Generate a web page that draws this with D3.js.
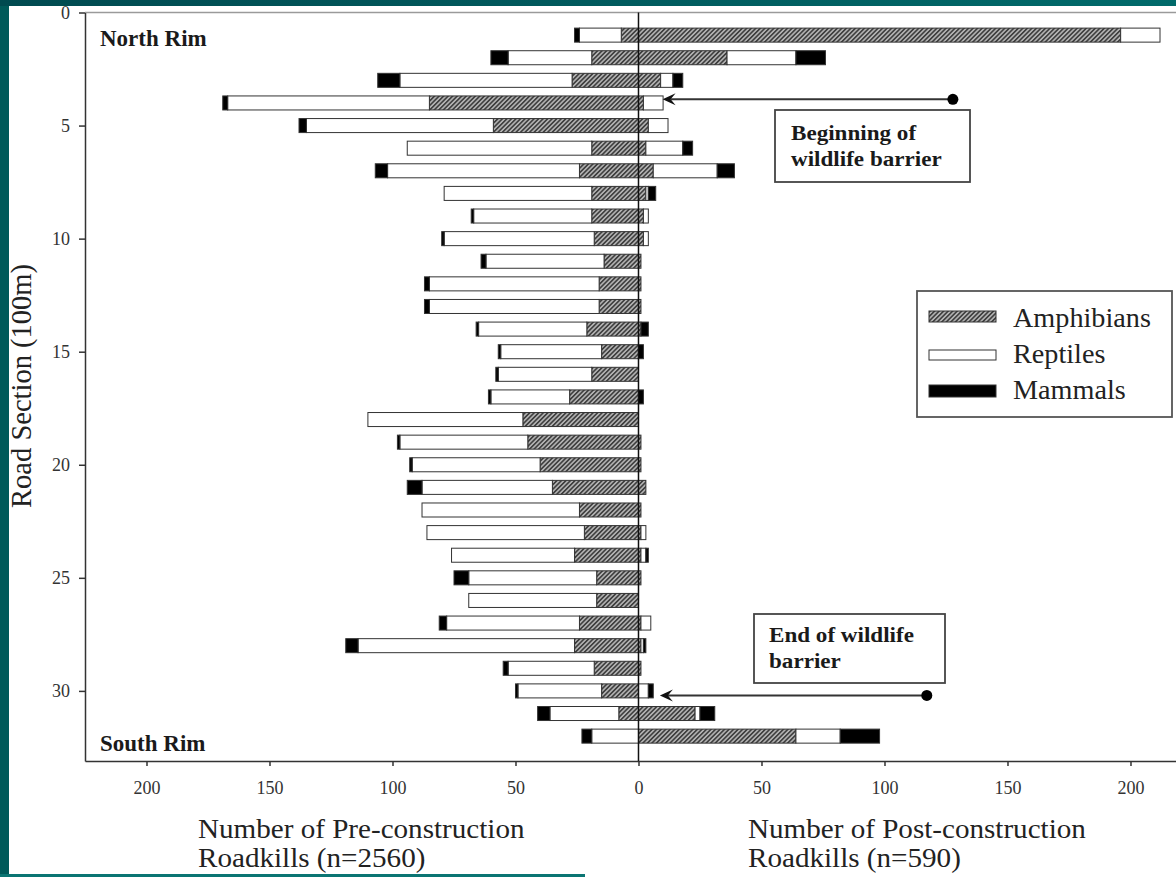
<!DOCTYPE html>
<html>
<head>
<meta charset="utf-8">
<script src="https://cdn.jsdelivr.net/npm/d3@7"></script>
<style>
  html, body { margin: 0; padding: 0; background: #00585a; }
  svg { display: block; }
  text { font-family: "Liberation Serif", "Times New Roman", serif; }
</style>
</head>
<body>
<div id="chart"></div>
<script>
// Road sections of 100 m, North Rim (1) down to South Rim (32)
const sections = [1, 2, 3, 4, 5, 6, 7, 8, 9, 10, 11, 12, 13, 14, 15, 16,
                  17, 18, 19, 20, 21, 22, 23, 24, 25, 26, 27, 28, 29, 30, 31, 32];

// Pre-construction roadkills (drawn to the left)
const preAmphibians = [7, 19, 27, 85, 59, 19, 24, 19, 19, 18, 14, 16, 16, 21, 15, 19,
                       28, 47, 45, 40, 35, 24, 22, 26, 17, 17, 24, 26, 18, 15, 8, 0];
const preReptiles   = [17, 34, 70, 82, 76, 75, 78, 60, 48, 61, 48, 69, 69, 44, 41, 38,
                       32, 63, 52, 52, 53, 64, 64, 50, 52, 52, 54, 88, 35, 34, 28, 19];
const preMammals    = [2, 7, 9, 2, 3, 0, 5, 0, 1, 1, 2, 2, 2, 1, 1, 1,
                       1, 0, 1, 1, 6, 0, 0, 0, 6, 0, 3, 5, 2, 1, 5, 4];

// Post-construction roadkills (drawn to the right)
const postAmphibians = [196, 36, 9, 2, 4, 3, 6, 3, 2, 2, 1, 1, 1, 1, 0, 0,
                        0, 0, 1, 1, 3, 1, 1, 1, 1, 0, 1, 1, 1, 0, 23, 64];
const postReptiles   = [16, 28, 5, 8, 8, 15, 26, 1, 2, 2, 0, 0, 0, 0, 0, 0,
                        0, 0, 0, 0, 0, 0, 2, 2, 0, 0, 4, 1, 0, 4, 2, 18];
const postMammals    = [0, 12, 4, 0, 0, 4, 7, 3, 0, 0, 0, 0, 0, 3, 2, 0,
                        2, 0, 0, 0, 0, 0, 0, 1, 0, 0, 0, 1, 0, 2, 6, 16];

const species = ["Amphibians", "Reptiles", "Mammals"];
const xTicks = [-200, -150, -100, -50, 0, 50, 100, 150, 200];
const yTicks = [0, 5, 10, 15, 20, 25, 30];

const width = 1176, height = 877;
const plotLeft = 85, plotRight = 1176, plotTop = 12.5, plotBottom = 761;

const svg = d3.select("#chart").append("svg")
    .attr("width", width)
    .attr("height", height);

const defs = svg.append("defs");

// diagonal hatching for amphibians
const hatch = defs.append("pattern")
    .attr("id", "hatch")
    .attr("patternUnits", "userSpaceOnUse")
    .attr("width", 3.2)
    .attr("height", 3.2)
    .attr("patternTransform", "rotate(45)");
hatch.append("rect").attr("width", 3.2).attr("height", 3.2).attr("fill", "#b4b4b4");
hatch.append("line")
    .attr("x1", 0.8).attr("y1", 0).attr("x2", 0.8).attr("y2", 3.2)
    .attr("stroke", "#404040").attr("stroke-width", 1.7);

const topGrad = defs.append("linearGradient").attr("id", "topband");
topGrad.append("stop").attr("offset", "0%").attr("stop-color", "#004a50");
topGrad.append("stop").attr("offset", "100%").attr("stop-color", "#006a6a");

// page frame: teal edges round a white panel
svg.append("rect").attr("width", width).attr("height", height).attr("fill", "#005a5a");
svg.append("rect").attr("x", 9).attr("y", 6).attr("width", width - 9).attr("height", height - 6).attr("fill", "#fff");
svg.append("rect").attr("width", width).attr("height", 6).attr("fill", "url(#topband)");
svg.append("rect").attr("x", 0).attr("y", 874).attr("width", 585).attr("height", 3).attr("fill", "#0b7573");

// text helper; the source figure is slightly stretched sideways
function label(px, py, str, size, opts = {}) {
    return svg.append("text")
        .attr("transform", `translate(${px},${py}) scale(${opts.sx || 1},1)`)
        .attr("font-size", size)
        .attr("font-weight", opts.bold ? "bold" : null)
        .attr("fill", opts.fill || "#222")
        .text(str);
}

const x = d3.scaleLinear()
    .domain([-225, 218.5])
    .range([plotLeft, plotRight]);

const y = d3.scaleLinear()
    .domain([0, 33.1])
    .range([plotTop, plotBottom]);

const fills = {Amphibians: "url(#hatch)", Reptiles: "#fff", Mammals: "#000"};
const barHalf = 0.31;

const preData = sections.map((s, i) => ({
    section: s, Amphibians: preAmphibians[i], Reptiles: preReptiles[i], Mammals: preMammals[i]
}));
const postData = sections.map((s, i) => ({
    section: s, Amphibians: postAmphibians[i], Reptiles: postReptiles[i], Mammals: postMammals[i]
}));

const stack = d3.stack().keys(species);

function drawSide(data, sign) {
    const layers = stack(data);
    const g = svg.append("g");
    layers.forEach(layer => {
        g.selectAll(null)
            .data(layer.filter(d => d[1] - d[0] > 0))
            .enter().append("rect")
            .attr("x", d => sign < 0 ? x(-d[1]) : x(d[0]))
            .attr("width", d => Math.abs(x(d[1]) - x(d[0])))
            .attr("y", d => y(d.data.section - barHalf))
            .attr("height", d => y(d.data.section + barHalf) - y(d.data.section - barHalf))
            .attr("fill", fills[layer.key])
            .attr("stroke", "#333")
            .attr("stroke-width", 1);
    });
}

drawSide(preData, -1);
drawSide(postData, 1);

// top frame line
svg.append("line")
    .attr("x1", plotLeft).attr("x2", plotRight)
    .attr("y1", plotTop).attr("y2", plotTop)
    .attr("stroke", "#9a9a9a").attr("stroke-width", 1.5);

// axes
const xAxis = svg.append("g")
    .attr("transform", `translate(0,${plotBottom})`)
    .call(d3.axisBottom(x).tickValues(xTicks).tickFormat(d => Math.abs(d)).tickSize(5).tickSizeOuter(0));
xAxis.select(".domain").attr("stroke", "#333").attr("stroke-width", 1.5);
xAxis.selectAll(".tick line").attr("stroke", "#333").attr("stroke-width", 1.5);
xAxis.selectAll("text")
    .attr("font-family", "'Liberation Serif', serif")
    .attr("font-size", 18)
    .attr("fill", "#333")
    .attr("y", 33).attr("dy", 0);

const yAxis = svg.append("g")
    .attr("transform", `translate(${plotLeft},0)`)
    .call(d3.axisLeft(y).tickValues(yTicks).tickSize(6).tickSizeOuter(0));
yAxis.select(".domain").attr("stroke", "#333").attr("stroke-width", 1.5);
yAxis.selectAll(".tick line").attr("stroke", "#333").attr("stroke-width", 1.5);
yAxis.selectAll("text")
    .attr("font-family", "'Liberation Serif', serif")
    .attr("font-size", 18)
    .attr("fill", "#333")
    .attr("x", -15);

// zero line between the two sides
svg.append("line")
    .attr("x1", x(0)).attr("x2", x(0))
    .attr("y1", plotTop).attr("y2", plotBottom)
    .attr("stroke", "#111").attr("stroke-width", 1.5);

// axis titles
svg.append("text")
    .attr("transform", "translate(31,386) rotate(-90)")
    .attr("text-anchor", "middle")
    .attr("font-size", 28.5)
    .attr("fill", "#222")
    .text("Road Section (100m)");

const titles = [
    {x: 198, lines: ["Number of Pre-construction", "Roadkills (n=2560)"]},
    {x: 748, lines: ["Number of Post-construction", "Roadkills (n=590)"]}
];
titles.forEach(t => {
    t.lines.forEach((line, i) => label(t.x, 838 + i * 29, line, 28, {sx: 1.04}));
});

// rim labels
label(100, 46, "North Rim", 23, {bold: true, fill: "#1a1a1a"});
label(100, 751, "South Rim", 23, {bold: true, fill: "#1a1a1a"});

// wildlife barrier annotations
const notes = [
    {box: [775, 110, 195, 72], text: ["Beginning of", "wildlife barrier"], tx: 791, ty: 140,
     arrowSection: 3.84, from: 127.8, to: 9.8},
    {box: [754, 614, 191, 69], text: ["End of wildlife", "barrier"], tx: 769, ty: 642,
     arrowSection: 30.2, from: 117.2, to: 8.7}
];
notes.forEach(n => {
    svg.append("rect")
        .attr("x", n.box[0]).attr("y", n.box[1])
        .attr("width", n.box[2]).attr("height", n.box[3])
        .attr("fill", "#fff").attr("stroke", "#444").attr("stroke-width", 1.8);
    n.text.forEach((line, i) => label(n.tx, n.ty + i * 26, line, 22, {bold: true, sx: 1.05, fill: "#1a1a1a"}));
    const ay = y(n.arrowSection), x0 = x(n.from), x1 = x(n.to);
    svg.append("line")
        .attr("x1", x0).attr("x2", x1 + 8)
        .attr("y1", ay).attr("y2", ay)
        .attr("stroke", "#333").attr("stroke-width", 2);
    svg.append("circle").attr("cx", x0).attr("cy", ay).attr("r", 5.5).attr("fill", "#000");
    svg.append("path")
        .attr("d", `M${x1},${ay} L${x1 + 13},${ay - 6} L${x1 + 8},${ay} L${x1 + 13},${ay + 6} Z`)
        .attr("fill", "#111");
});

// legend
svg.append("rect")
    .attr("x", 917).attr("y", 291).attr("width", 255).attr("height", 126)
    .attr("fill", "#fff").attr("stroke", "#555").attr("stroke-width", 1.8);
const legendRows = [
    {key: "Amphibians", sy: 311, sh: 11, ty: 327},
    {key: "Reptiles", sy: 350, sh: 10, ty: 363},
    {key: "Mammals", sy: 385, sh: 12, ty: 399}
];
legendRows.forEach(r => {
    svg.append("rect")
        .attr("x", 929).attr("y", r.sy).attr("width", 67).attr("height", r.sh)
        .attr("fill", fills[r.key]).attr("stroke", "#333").attr("stroke-width", 1);
    label(1013, r.ty, r.key, 27, {sx: 1.045});
});
</script>
</body>
</html>
